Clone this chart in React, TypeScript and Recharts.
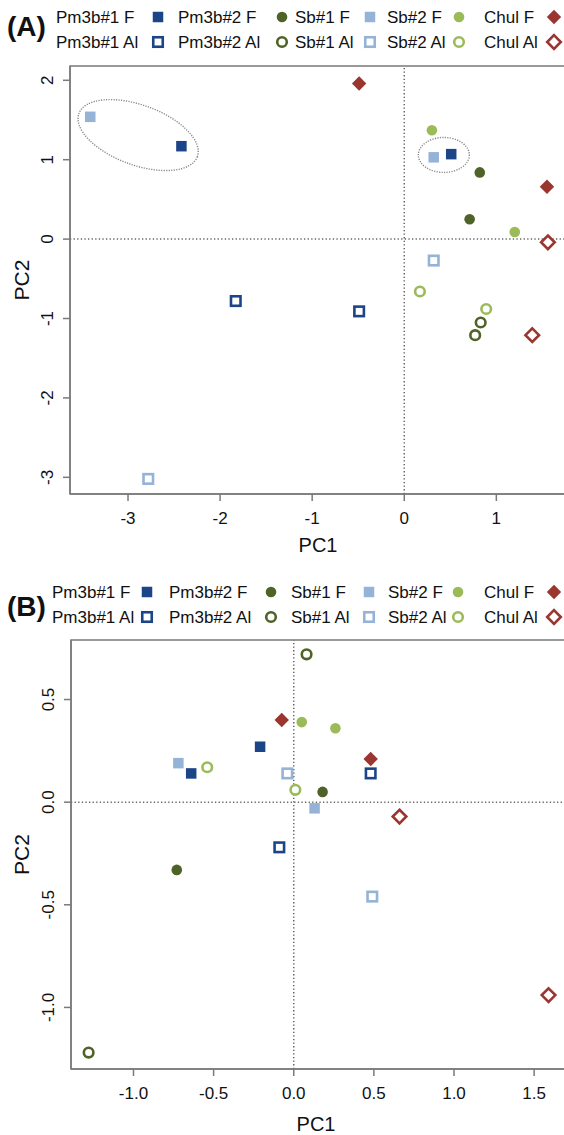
import React from 'react';
import {
  ScatterChart,
  Scatter,
  XAxis,
  YAxis,
  ReferenceLine,
  ReferenceArea,
  ReferenceDot,
} from 'recharts';

const FONT = '"Liberation Sans", Arial, Helvetica, sans-serif';

// lines and treatments, in legend order
const lines = ['Pm3b#1', 'Pm3b#2', 'Sb#1', 'Sb#2', 'Chul'];
const treatments = ['F', 'Al'];

// panel A scores (PC1, PC2)
const pm3b1F_A = [{ pc1: -2.42, pc2: 1.17 }, { pc1: 0.51, pc2: 1.07 }];
const pm3b1Al_A = [{ pc1: -1.83, pc2: -0.78 }, { pc1: -0.49, pc2: -0.91 }];
const pm3b2F_A = [{ pc1: 0.82, pc2: 0.84 }, { pc1: 0.71, pc2: 0.25 }];
const pm3b2Al_A = [{ pc1: 0.83, pc2: -1.05 }, { pc1: 0.77, pc2: -1.21 }];
const sb1F_A = [{ pc1: -3.41, pc2: 1.54 }, { pc1: 0.32, pc2: 1.03 }];
const sb1Al_A = [{ pc1: -2.78, pc2: -3.02 }, { pc1: 0.32, pc2: -0.27 }];
const sb2F_A = [{ pc1: 0.3, pc2: 1.37 }, { pc1: 1.2, pc2: 0.09 }];
const sb2Al_A = [{ pc1: 0.17, pc2: -0.66 }, { pc1: 0.89, pc2: -0.88 }];
const chulF_A = [{ pc1: -0.49, pc2: 1.96 }, { pc1: 1.55, pc2: 0.66 }];
const chulAl_A = [{ pc1: 1.56, pc2: -0.04 }, { pc1: 1.39, pc2: -1.21 }];

// panel B scores (PC1, PC2)
const pm3b1F_B = [{ pc1: -0.21, pc2: 0.27 }, { pc1: -0.64, pc2: 0.14 }];
const pm3b1Al_B = [{ pc1: 0.48, pc2: 0.14 }, { pc1: -0.09, pc2: -0.22 }];
const pm3b2F_B = [{ pc1: 0.18, pc2: 0.05 }, { pc1: -0.73, pc2: -0.33 }];
const pm3b2Al_B = [{ pc1: 0.08, pc2: 0.72 }, { pc1: -1.28, pc2: -1.22 }];
const sb1F_B = [{ pc1: -0.72, pc2: 0.19 }, { pc1: 0.13, pc2: -0.03 }];
const sb1Al_B = [{ pc1: -0.04, pc2: 0.14 }, { pc1: 0.49, pc2: -0.46 }];
const sb2F_B = [{ pc1: 0.05, pc2: 0.39 }, { pc1: 0.26, pc2: 0.36 }];
const sb2Al_B = [{ pc1: -0.54, pc2: 0.17 }, { pc1: 0.01, pc2: 0.06 }];
const chulF_B = [{ pc1: -0.075, pc2: 0.4 }, { pc1: 0.48, pc2: 0.21 }];
const chulAl_B = [{ pc1: 0.66, pc2: -0.07 }, { pc1: 1.59, pc2: -0.94 }];

// circled groups in panel A (centres)
const groupsA = [
  { pc1: -2.89, pc2: 1.31 },
  { pc1: 0.43, pc2: 1.06 },
];

const xTicksA = [-3, -2, -1, 0, 1];
const yTicksA = [-3, -2, -1, 0, 1, 2];
const xTicksB = [-1, -0.5, 0, 0.5, 1, 1.5];
const yTicksB = [-1, -0.5, 0, 0.5];

const lineColor: Record<string, string> = {
  'Pm3b#1': '#1c4587',
  'Pm3b#2': '#4f6228',
  'Sb#1': '#95b3d7',
  'Sb#2': '#9bbb59',
  Chul: '#9b3530',
};
const lineShape: Record<string, string> = {
  'Pm3b#1': 'square',
  'Pm3b#2': 'circle',
  'Sb#1': 'square',
  'Sb#2': 'circle',
  Chul: 'diamond',
};

const dataA: Record<string, any[]> = {
  'Pm3b#1 F': pm3b1F_A, 'Pm3b#1 Al': pm3b1Al_A,
  'Pm3b#2 F': pm3b2F_A, 'Pm3b#2 Al': pm3b2Al_A,
  'Sb#1 F': sb1F_A, 'Sb#1 Al': sb1Al_A,
  'Sb#2 F': sb2F_A, 'Sb#2 Al': sb2Al_A,
  'Chul F': chulF_A, 'Chul Al': chulAl_A,
};
const dataB: Record<string, any[]> = {
  'Pm3b#1 F': pm3b1F_B, 'Pm3b#1 Al': pm3b1Al_B,
  'Pm3b#2 F': pm3b2F_B, 'Pm3b#2 Al': pm3b2Al_B,
  'Sb#1 F': sb1F_B, 'Sb#1 Al': sb1Al_B,
  'Sb#2 F': sb2F_B, 'Sb#2 Al': sb2Al_B,
  'Chul F': chulF_B, 'Chul Al': chulAl_B,
};

const Marker = ({ cx, cy, kind, open, color }: any) => {
  if (cx == null || cy == null) return null;
  const sw = 2.6;
  if (kind === 'square') {
    const s = open ? 9.5 : 10.5;
    return (
      <rect x={cx - s / 2} y={cy - s / 2} width={s} height={s}
        fill={open ? '#fff' : color} stroke={open ? color : 'none'} strokeWidth={open ? sw : 0} />
    );
  }
  if (kind === 'circle') {
    return (
      <circle cx={cx} cy={cy} r={open ? 4.8 : 5.3}
        fill={open ? '#fff' : color} stroke={open ? color : 'none'} strokeWidth={open ? sw : 0} />
    );
  }
  const d = open ? 6.8 : 7.2;
  return (
    <polygon points={`${cx},${cy - d} ${cx + d},${cy} ${cx},${cy + d} ${cx - d},${cy}`}
      fill={open ? '#fff' : color} stroke={open ? color : 'none'} strokeWidth={open ? sw : 0} />
  );
};

const XTick = ({ x, y, payload, fmt }: any) => (
  <text x={x} y={y} dy="0.71em" textAnchor="middle" fontSize={17} fontFamily={FONT} fill="#111">
    {fmt(payload.value)}
  </text>
);

const YTick = ({ x, y, payload, fmt }: any) => (
  <text x={x} y={y} transform={`rotate(-90, ${x}, ${y})`} textAnchor="middle" fontSize={17} fontFamily={FONT} fill="#111">
    {fmt(payload.value)}
  </text>
);

const XTitle = ({ viewBox, dy, dx }: any) => (
  <text x={viewBox.x + viewBox.width / 2 + dx} y={viewBox.y + dy} textAnchor="middle" fontSize={20} fontFamily={FONT} fill="#111">
    PC1
  </text>
);

const YTitle = ({ viewBox }: any) => {
  const cy = viewBox.y + viewBox.height / 2;
  return (
    <text x={29} y={cy} transform={`rotate(-90, 29, ${cy})`} textAnchor="middle" fontSize={21} fontFamily={FONT} fill="#111">
      PC2
    </text>
  );
};

const Ellipse = ({ cx, cy, rx, ry, angle }: any) => (
  <ellipse cx={cx} cy={cy} rx={rx} ry={ry} transform={`rotate(${angle}, ${cx}, ${cy})`}
    fill="none" stroke="#888" strokeWidth={1.4} strokeDasharray="1.2 1.3" />
);

const legendTextX = { A: [56, 178, 295, 387, 484], B: [52, 169, 291, 388, 484] };
const legendMarkX = { A: [158, 282, 370, 459, 554], B: [147, 271, 369, 458, 554] };

const PanelLegend = ({ tag, rows, textX, markX, tagY }: any) => (
  <svg width={564} height={60} style={{ position: 'absolute', left: 0, top: 0 }}>
    <text x={7} y={tagY} fontSize={28} fontWeight="bold" fontFamily={FONT} fill="#111">{tag}</text>
    {treatments.map((t, ri) =>
      lines.map((l, ci) => (
        <g key={`${t}-${l}`}>
          <text x={textX[ci]} y={rows[ri] + 6} fontSize={17} fontFamily={FONT} fill="#111">{`${l} ${t}`}</text>
          <Marker cx={markX[ci]} cy={rows[ri]} kind={lineShape[l]} open={t === 'Al'} color={lineColor[l]} />
        </g>
      ))
    )}
  </svg>
);

const Panel = ({ data, width, marginTop, xDomain, yDomain, xTicks, yTicks, fmt, titleDy, titleDx, groups }: any) => (
  <ScatterChart width={width} height={560} margin={{ top: marginTop, right: 0, bottom: 0, left: 0 }}>
    <XAxis type="number" dataKey="pc1" domain={xDomain} ticks={xTicks} allowDataOverflow interval={0}
      height={66} tickSize={7} tickMargin={11} stroke="#7a7a7a" strokeWidth={1.5}
      tick={<XTick fmt={fmt} />} label={<XTitle dy={titleDy} dx={titleDx} />} />
    <YAxis type="number" dataKey="pc2" domain={yDomain} ticks={yTicks} allowDataOverflow interval={0}
      width={width === 570 ? 70 : 71} tickSize={7} tickMargin={10} stroke="#7a7a7a" strokeWidth={1.5}
      tick={<YTick fmt={fmt} />} label={<YTitle />} />
    <ReferenceArea x1={xDomain[0]} x2={xDomain[1]} y1={yDomain[0]} y2={yDomain[1]}
      fill="none" fillOpacity={0} stroke="#7a7a7a" strokeWidth={1.5} ifOverflow="visible" />
    <ReferenceLine x={0} stroke="#666" strokeWidth={1.5} strokeDasharray="1.3 2.3" />
    <ReferenceLine y={0} stroke="#666" strokeWidth={1.5} strokeDasharray="1.3 2.3" />
    {groups &&
      groups.map((g: any, i: number) => (
        <ReferenceDot key={i} x={g.pc1} y={g.pc2} r={1} ifOverflow="visible"
          shape={(p: any) => (i === 0
            ? <Ellipse cx={p.cx} cy={p.cy} rx={63} ry={30} angle={20} />
            : <Ellipse cx={p.cx} cy={p.cy} rx={25.5} ry={17.5} angle={0} />)} />
      ))}
    {lines.map((l) =>
      treatments.map((t) => {
        const name = `${l} ${t}`;
        return (
          <Scatter key={name} name={name} data={data[name]} isAnimationActive={false}
            shape={(p: any) => <Marker cx={p.cx} cy={p.cy} kind={lineShape[l]} open={t === 'Al'} color={lineColor[l]} />} />
        );
      })
    )}
  </ScatterChart>
);

const fmtA = (v: number) => `${v}`;
const fmtB = (v: number) => v.toFixed(1);

export default function App() {
  return (
    <div style={{ position: 'absolute', left: 0, top: 0, width: 564, height: 1135, overflow: 'hidden', background: '#fff', fontFamily: FONT }}>
      <div style={{ position: 'absolute', left: 0, top: 0 }}>
        <Panel data={dataA} width={570} marginTop={66} xDomain={[-3.63, 1.8]} yDomain={[-3.21, 2.18]}
          xTicks={xTicksA} yTicks={yTicksA} fmt={fmtA} titleDy={58} titleDx={-2} groups={groupsA} />
      </div>
      <div style={{ position: 'absolute', left: 0, top: 0 }}>
        <PanelLegend tag="(A)" rows={[17, 42]} textX={legendTextX.A} markX={legendMarkX.A} tagY={36} />
      </div>
      <div style={{ position: 'absolute', left: 0, top: 575 }}>
        <Panel data={dataB} width={579} marginTop={65} xDomain={[-1.39, 1.78]} yDomain={[-1.3, 0.79]}
          xTicks={xTicksB} yTicks={yTicksB} fmt={fmtB} titleDy={62} titleDx={-9} />
      </div>
      <div style={{ position: 'absolute', left: 0, top: 575 }}>
        <PanelLegend tag="(B)" rows={[17, 42]} textX={legendTextX.B} markX={legendMarkX.B} tagY={41} />
      </div>
    </div>
  );
}
